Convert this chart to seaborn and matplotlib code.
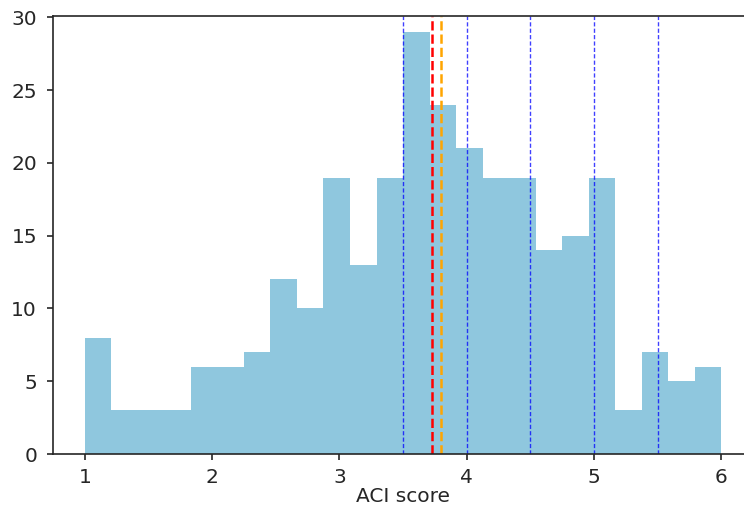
import numpy as np
import pandas as pd
import matplotlib
matplotlib.use("Agg")
import matplotlib.pyplot as plt
import seaborn as sns

# histogram: 24 equal bins between 1 and 6
bin_lo = 1.0
bin_hi = 6.0
n_bins = 24
counts = [8, 3, 3, 3, 6, 6, 7, 12, 10, 19, 13, 19,
          29, 24, 21, 19, 19, 14, 15, 19, 3, 7, 5, 6]

mean_score = 3.73
median_score = 3.80
cutoffs = [3.5, 4.0, 4.5, 5.0, 5.5]

edges = np.linspace(bin_lo, bin_hi, n_bins + 1)
centers = (edges[:-1] + edges[1:]) / 2
df = pd.DataFrame({'score': centers, 'n': counts})

sns.set_style("ticks")
plt.rcParams['font.family'] = ['DejaVu Sans']

fig = plt.figure(figsize=(7.44, 5.11), dpi=100)
# right edge of the axes runs past the figure (the reference is cropped)
ax = fig.add_axes([0.0712, 0.1115, 0.941, 0.8572])

sns.histplot(data=df, x='score', weights='n', bins=n_bins,
             binrange=(bin_lo, bin_hi), color='#8fc7de',
             alpha=1, linewidth=0, ax=ax)

for c in cutoffs:
    ax.axvline(c, color='blue', linestyle='--', linewidth=1.0, alpha=0.75,
               dashes=(3, 1.6))
ax.axvline(mean_score, color='red', linestyle='--', linewidth=1.8)
ax.axvline(median_score, color='orange', linestyle='--', linewidth=1.8)

ax.set_xlim(0.75, 6.25)
ax.set_ylim(0, 30.1)
ax.set_xticks([1, 2, 3, 4, 5, 6])
ax.set_yticks([0, 5, 10, 15, 20, 25, 30])
ax.tick_params(labelsize=14.5, length=4.5, width=1.2)
ax.tick_params(axis='x', pad=5.3)
ax.tick_params(axis='y', pad=7)
ax.set_xlabel('ACI score', fontsize=14.5, labelpad=0.5)
ax.set_ylabel('')
for s in ax.spines.values():
    s.set_visible(True)
    s.set_linewidth(1.2)

fig.savefig('out.png', dpi=100)
